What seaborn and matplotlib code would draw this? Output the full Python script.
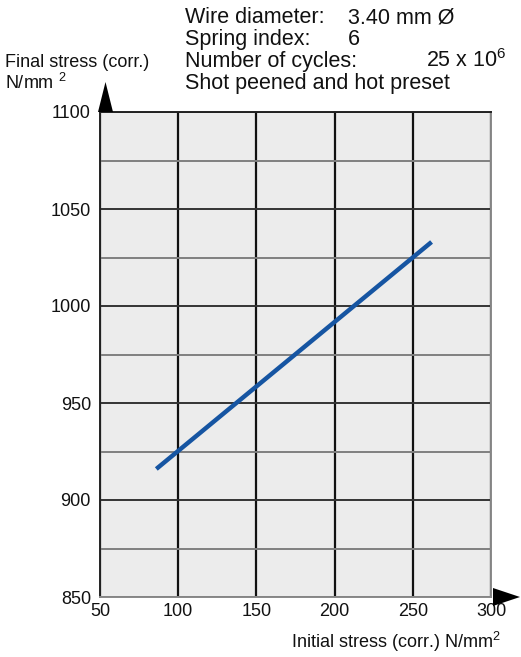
import matplotlib
matplotlib.use("Agg")
import matplotlib.pyplot as plt
from matplotlib.patches import Polygon
import seaborn as sns
import pandas as pd

# Fatigue line: final stress vs. initial stress
initial_stress = [86, 262]
final_stress = [916, 1033]

x_ticks = [50, 100, 150, 200, 250, 300]
y_ticks = [850, 900, 950, 1000, 1050, 1100]
y_minor = [875, 925, 975, 1025, 1075]

info_labels = ["Wire diameter:", "Spring index:", "Number of cycles:", "Shot peened and hot preset"]
info_values = ["3.40 mm Ø", "6", r"25 x 10$^6$", ""]
info_value_align = ["left", "left", "right", "left"]

sns.set_theme(style="white")
plt.rcParams["font.family"] = ["Liberation Sans", "DejaVu Sans"]
plt.rcParams["mathtext.fontset"] = "custom"
plt.rcParams["mathtext.rm"] = "Liberation Sans"

W, H = 521, 657
fig = plt.figure(figsize=(W / 100, H / 100), dpi=100)
fig.patch.set_facecolor("white")
ax = fig.add_axes([100 / W, 1 - 597 / H, 391 / W, 485 / H])
ax.set_facecolor("#ececec")

df = pd.DataFrame({"initial": initial_stress, "final": final_stress})
sns.lineplot(data=df, x="initial", y="final", ax=ax, color="#1655a2",
             linewidth=3.2, solid_capstyle="butt", zorder=5)

ax.set_xlim(50, 300)
ax.set_ylim(850, 1100)
ax.set_xticks(x_ticks)
ax.set_yticks(y_ticks)
ax.set_yticks(y_minor, minor=True)
ax.tick_params(axis="both", which="both", length=0, labelsize=13, colors="#111111")
ax.tick_params(axis="x", pad=4.5)
ax.tick_params(axis="y", pad=6.5)
ax.set_xlabel("")
ax.set_ylabel("")

ax.xaxis.grid(True, which="major", color="#111111", linewidth=1.6, zorder=1)
ax.yaxis.grid(True, which="major", color="#333333", linewidth=1.4, zorder=1)
ax.yaxis.grid(True, which="minor", color="#808080", linewidth=1.4, zorder=1)
ax.set_axisbelow(True)

for side, col in [("left", "#222222"), ("top", "#222222"), ("bottom", "#888888"), ("right", "#888888")]:
    ax.spines[side].set_visible(True)
    ax.spines[side].set_color(col)
    ax.spines[side].set_linewidth(1.4)


def px(x, y):
    return (x / W, 1 - y / H)


# axis arrows
fig.patches.append(Polygon([px(98, 112), px(113, 112), px(105.5, 82)], closed=True,
                           transform=fig.transFigure, facecolor="black", edgecolor="none"))
fig.patches.append(Polygon([px(493, 588), px(493, 606), px(520, 597)], closed=True,
                           transform=fig.transFigure, facecolor="black", edgecolor="none"))

# axis titles
fig.text(*px(5, 67), "Final stress (corr.)", fontsize=13, va="baseline", ha="left", color="#111111")
fig.text(*px(5, 89), r"N/mm $^2$", fontsize=13, va="baseline", ha="left", color="#111111")
fig.text(*px(501, 648), r"Initial stress (corr.) N/mm$^2$", fontsize=13, va="baseline",
         ha="right", color="#111111")

# info block
baselines = [23, 45, 67, 89]
for lab, val, align, yy in zip(info_labels, info_values, info_value_align, baselines):
    fig.text(*px(185, yy), lab, fontsize=15.5, va="baseline", ha="left", color="#111111")
    if not val:
        continue
    xv = 348 if align == "left" else 507
    fig.text(*px(xv, yy), val, fontsize=15.5, va="baseline", ha=align, color="#111111")

fig.savefig("out.png", dpi=100, facecolor="white")
